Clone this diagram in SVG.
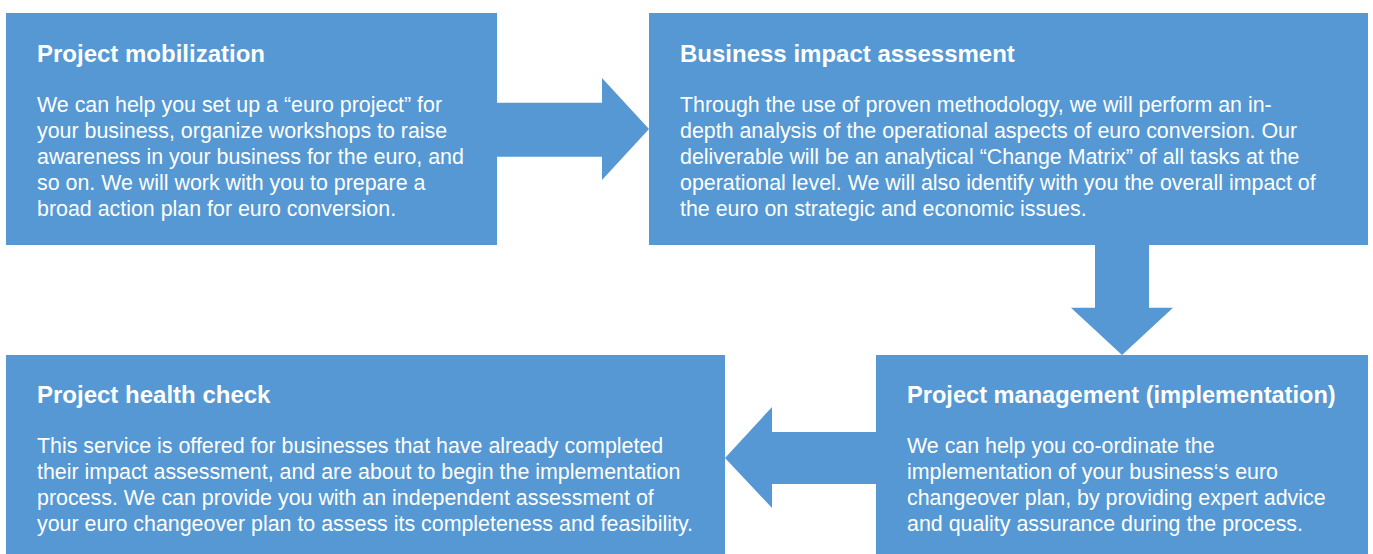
<svg xmlns="http://www.w3.org/2000/svg" width="1373" height="554" viewBox="0 0 1373 554">
<style>
.box{fill:#5598D3}
.arr{fill:#5598D3}
.t{font-family:"Liberation Sans",Arial,sans-serif;font-weight:bold;font-size:24px;fill:#fff}
.b{font-family:"Liberation Sans",Arial,sans-serif;font-size:21.4px;fill:#fff}
</style>
<rect width="1373" height="554" fill="#fff"/>
<g id="connectors">
<polygon class="arr" points="497,102.7 602,102.7 602,78 649,129 602,180 602,156.7 497,156.7"/>
<polygon class="arr" points="1095,245 1149,245 1149,307.7 1173,307.7 1122,355 1071,307.7 1095,307.7"/>
<polygon class="arr" points="876,432 772,432 772,407 725,458 772,508 772,484 876,484"/>
</g>
<g id="node-mobilization">
<rect class="box" x="6" y="13" width="491" height="232"/>
<text class="t" x="37" y="61.7">Project mobilization</text>
<text class="b" x="37" y="111.7">We can help you set up a “euro project” for</text>
<text class="b" x="37" y="137.7">your business, organize workshops to raise</text>
<text class="b" x="37" y="163.7">awareness in your business for the euro, and</text>
<text class="b" x="37" y="189.7">so on. We will work with you to prepare a</text>
<text class="b" x="37" y="215.7">broad action plan for euro conversion.</text>
</g>
<g id="node-impact">
<rect class="box" x="649" y="13" width="719" height="232"/>
<text class="t" x="680" y="61.7">Business impact assessment</text>
<text class="b" x="680" y="111.7">Through the use of proven methodology, we will perform an in-</text>
<text class="b" x="680" y="137.7">depth analysis of the operational aspects of euro conversion. Our</text>
<text class="b" x="680" y="163.7">deliverable will be an analytical “Change Matrix” of all tasks at the</text>
<text class="b" x="680" y="189.7">operational level. We will also identify with you the overall impact of</text>
<text class="b" x="680" y="215.7">the euro on strategic and economic issues.</text>
</g>
<g id="node-management">
<rect class="box" x="876" y="355" width="492" height="199"/>
<text class="t" x="907" y="403.3" style="font-size:23.6px">Project management (implementation)</text>
<text class="b" x="907" y="453.3">We can help you co-ordinate the</text>
<text class="b" x="907" y="479.3">implementation of your business‘s euro</text>
<text class="b" x="907" y="505.3">changeover plan, by providing expert advice</text>
<text class="b" x="907" y="531.3">and quality assurance during the process.</text>
</g>
<g id="node-healthcheck">
<rect class="box" x="6" y="355" width="719" height="199"/>
<text class="t" x="37" y="403.3">Project health check</text>
<text class="b" x="37" y="453.3">This service is offered for businesses that have already completed</text>
<text class="b" x="37" y="479.3">their impact assessment, and are about to begin the implementation</text>
<text class="b" x="37" y="505.3">process. We can provide you with an independent assessment of</text>
<text class="b" x="37" y="531.3">your euro changeover plan to assess its completeness and feasibility.</text>
</g>
</svg>
